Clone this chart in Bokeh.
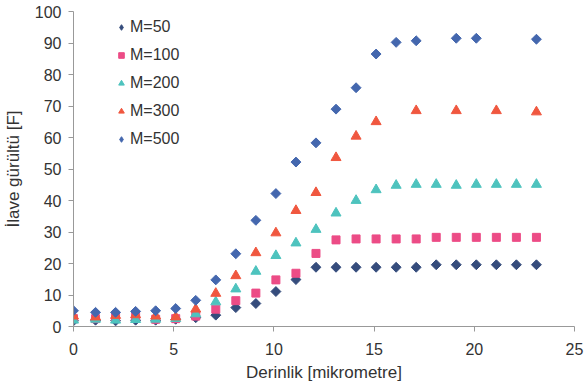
import math
from bokeh.plotting import figure
from bokeh.models import Range1d, SingleIntervalTicker, Legend, LegendItem
from bokeh.embed import file_html
from bokeh.resources import INLINE

# Data (depth in micrometres, additional noise in F)
x_all = [0, 1.1, 2.1, 3.1, 4.1, 5.1, 6.1, 7.1, 8.1, 9.1, 10.1, 11.1,
         12.1, 13.1, 14.1, 15.1, 16.1, 17.1, 18.1, 19.1, 20.1, 21.1, 22.1, 23.1]

m50 = [1.8, 2.0, 1.8, 2.0, 2.0, 2.3, 2.8, 3.6, 6.0, 7.3, 11.1, 14.9,
       18.8, 18.8, 18.8, 18.8, 18.8, 18.8, 19.6, 19.6, 19.6, 19.6, 19.6, 19.6]
m100 = [2.5, 2.5, 3.0, 3.3, 2.3, 2.5, 3.3, 5.5, 8.2, 10.6, 14.8, 16.9,
        23.2, 27.5, 27.8, 27.8, 27.8, 27.8, 28.3, 28.3, 28.3, 28.3, 28.3, 28.3]
m200 = [2.0, 2.3, 2.0, 2.2, 2.3, 2.5, 4.0, 7.8, 11.9, 17.5, 22.5, 26.5,
        30.8, 36.0, 40.0, 43.4, 44.8, 45.1, 45.1, 44.8, 45.1, 45.1, 45.1, 45.1]
x300 = [0, 1.1, 2.1, 3.1, 4.1, 5.1, 6.1, 7.1, 8.1, 9.1, 10.1, 11.1,
        12.1, 13.1, 14.1, 15.1, 17.1, 19.1, 21.1, 23.1]
m300 = [3.3, 3.0, 3.5, 3.7, 3.3, 3.0, 5.5, 10.5, 16.1, 23.4, 29.7, 36.8,
        42.5, 53.6, 60.4, 65.0, 68.5, 68.5, 68.5, 68.1]
x500 = [0, 1.1, 2.1, 3.1, 4.1, 5.1, 6.1, 7.1, 8.1, 9.1, 10.1, 11.1,
        12.1, 13.1, 14.1, 15.1, 16.1, 17.1, 19.1, 20.1, 23.1]
m500 = [5.0, 4.5, 4.5, 4.8, 5.0, 5.7, 8.3, 14.8, 23.1, 33.7, 42.2, 52.2,
        58.3, 69.0, 75.8, 86.5, 90.2, 90.7, 91.5, 91.5, 91.2]

labels = ["M=50", "M=100", "M=200", "M=300", "M=500"]
colors = ["#354C7C", "#EC4C86", "#4EC3BE", "#F0573F", "#4467AE"]

FONT = "Liberation Sans"
TXT = "#333333"

p = figure(width=584, height=388, output_backend="svg", toolbar_location=None,
           x_range=Range1d(0, 25), y_range=Range1d(0, 100),
           min_border_left=70, min_border_right=10, min_border_top=11,
           min_border_bottom=62)
p.outline_line_color = None
p.xgrid.visible = False
p.ygrid.visible = False
p.background_fill_color = "white"
p.border_fill_color = "white"

p.scatter(x_all, m50, marker="square", angle=math.pi / 4, size=7,
          fill_color=colors[0], line_color=colors[0])
p.scatter(x_all, m100, marker="square", size=8,
          fill_color=colors[1], line_color=colors[1])
p.scatter(x_all, m200, marker="triangle", size=10,
          fill_color=colors[2], line_color=colors[2])
p.scatter(x300, m300, marker="triangle", size=10,
          fill_color=colors[3], line_color=colors[3])
p.scatter(x500, m500, marker="square", angle=math.pi / 4, size=7,
          fill_color=colors[4], line_color=colors[4])

# legend-only renderers (legend glyphs ignore marker rotation);
# their single point lies outside the fixed ranges, so only the legend shows it
leg_markers = [("diamond", 12), ("square", 8), ("triangle", 10),
               ("triangle", 10), ("diamond", 12)]
leg_renderers = []
for (mk, sz), c in zip(leg_markers, colors):
    leg_renderers.append(p.scatter(x=[-100], y=[-100], marker=mk, size=sz,
                                   fill_color=c, line_color=c))

p.xaxis.ticker = SingleIntervalTicker(interval=5)
p.yaxis.ticker = SingleIntervalTicker(interval=10)
p.xaxis.minor_tick_line_color = None
p.yaxis.minor_tick_line_color = None
for ax in (p.xaxis, p.yaxis):
    ax.axis_line_color = "#999999"
    ax.major_tick_line_color = "#999999"
    ax.major_tick_in = 0
    ax.major_tick_out = 5
    ax.major_label_text_font = FONT
    ax.major_label_text_font_size = "16px"
    ax.major_label_text_color = TXT
    ax.axis_label_text_font = FONT
    ax.axis_label_text_font_size = "17px"
    ax.axis_label_text_font_style = "normal"
    ax.axis_label_text_color = TXT

p.xaxis.axis_label = "Derinlik [mikrometre]"
p.yaxis.axis_label = "İlave gürültü [F]"
p.xaxis.major_label_standoff = 11
p.xaxis.axis_label_standoff = 5
p.yaxis.major_label_standoff = 7
p.yaxis.axis_label_standoff = 9

legend = Legend(items=[LegendItem(label=l, renderers=[r])
                       for l, r in zip(labels, leg_renderers)],
                location=(41, 177), margin=0, padding=0,
                glyph_width=14, glyph_height=20, label_height=20, spacing=8,
                label_standoff=2, label_text_font=FONT,
                label_text_font_size="16px", label_text_color=TXT,
                border_line_color=None, background_fill_alpha=0)
p.add_layout(legend, "center")

open("out.html", "w").write(file_html(p, INLINE))
